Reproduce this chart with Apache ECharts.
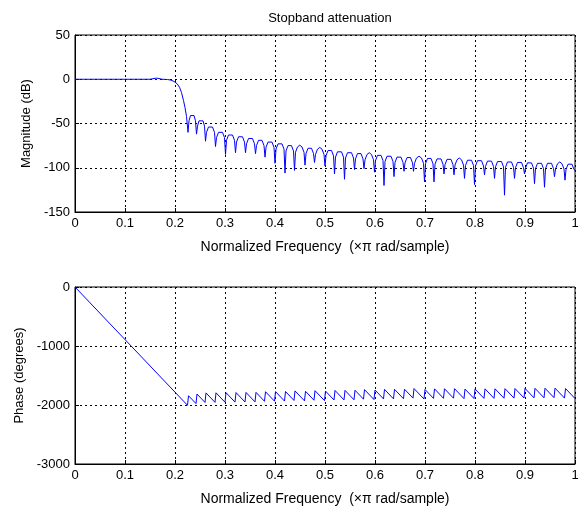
<!DOCTYPE html>
<html>
<head>
<meta charset="utf-8">
<script src="https://cdn.jsdelivr.net/npm/echarts@6/dist/echarts.min.js"></script>
<style>
  html, body { margin: 0; padding: 0; background: #fff; }
  #chart { width: 585px; height: 513px; }
</style>
</head>
<body>
<div id="chart"></div>
<script>
// Tick labels
const freqTicks = [0, 0.1, 0.2, 0.3, 0.4, 0.5, 0.6, 0.7, 0.8, 0.9, 1];
const magTicks = [-150, -100, -50, 0, 50];
const phaseTicks = [-3000, -2000, -1000, 0];

// Magnitude response (dB) over normalized frequency: passband and transition
const magPassband = [
  [0, 0], [0.05, 0], [0.10, 0], [0.15, 0], [0.158, 0.8], [0.163, 1.3], [0.168, 0.8],
  [0.174, 0], [0.185, -0.3], [0.192, -1], [0.198, -2.5], [0.204, -5], [0.209, -9],
  [0.213, -15], [0.217, -24], [0.220, -32], [0.223, -42]
];

// Stopband sidelobes: null, rise, shoulder, peak, shoulder, fall for each lobe
const magStopband = [
  [0.226,-60],[0.228,-47],[0.231,-41],[0.2345,-39],[0.238,-41],[0.241,-47],
  [0.243,-62],[0.245,-53],[0.248,-47],[0.252,-45],[0.256,-47],[0.259,-53],
  [0.261,-70],[0.263,-60],[0.267,-54],[0.271,-52],[0.275,-54],[0.279,-60],
  [0.281,-76],[0.283,-66],[0.287,-60],[0.291,-58],[0.295,-60],[0.299,-66],
  [0.301,-85],[0.303,-69],[0.307,-63],[0.311,-61],[0.315,-63],[0.319,-69],
  [0.321,-83],[0.323,-71],[0.327,-65],[0.331,-63],[0.335,-65],[0.339,-71],
  [0.341,-83],[0.343,-73],[0.347,-67],[0.351,-65],[0.355,-67],[0.359,-73],
  [0.361,-84],[0.363,-75],[0.367,-69],[0.3705,-67],[0.374,-69],[0.378,-75],
  [0.380,-88],[0.382,-77],[0.386,-71],[0.390,-69],[0.394,-71],[0.398,-77],
  [0.400,-95],[0.402,-79],[0.406,-73],[0.410,-71],[0.414,-73],[0.418,-79],
  [0.420,-106],[0.422,-81],[0.426,-75],[0.4295,-73],[0.433,-75],[0.437,-81],
  [0.439,-103],[0.441,-82.5],[0.445,-76.5],[0.4495,-74.5],[0.454,-76.5],[0.458,-82.5],
  [0.460,-97],[0.462,-84],[0.466,-78],[0.4695,-76],[0.473,-78],[0.477,-84],
  [0.479,-94],[0.481,-85],[0.485,-79],[0.4895,-77],[0.494,-79],[0.498,-85],
  [0.500,-98],[0.502,-86.5],[0.506,-80.5],[0.5095,-78.5],[0.513,-80.5],[0.517,-86.5],
  [0.519,-107],[0.521,-88],[0.525,-82],[0.529,-80],[0.533,-82],[0.537,-88],
  [0.539,-113],[0.541,-89],[0.545,-83],[0.549,-81],[0.553,-83],[0.557,-89],
  [0.559,-102],[0.561,-90],[0.565,-84],[0.5685,-82],[0.572,-84],[0.576,-90],
  [0.578,-101],[0.580,-91],[0.584,-85],[0.5885,-83],[0.593,-85],[0.597,-91],
  [0.599,-105],[0.601,-92],[0.605,-86],[0.6085,-84],[0.612,-86],[0.616,-92],
  [0.618,-120],[0.620,-93],[0.624,-87],[0.628,-85],[0.632,-87],[0.636,-93],
  [0.638,-110],[0.640,-94],[0.644,-88],[0.648,-86],[0.652,-88],[0.656,-94],
  [0.658,-104],[0.660,-94.5],[0.664,-88.5],[0.6675,-86.5],[0.671,-88.5],[0.675,-94.5],
  [0.677,-104],[0.679,-95],[0.683,-89],[0.688,-87],[0.693,-89],[0.697,-95],
  [0.699,-116],[0.701,-95.5],[0.705,-89.5],[0.7085,-87.5],[0.712,-89.5],[0.716,-95.5],
  [0.718,-116],[0.720,-96],[0.724,-90],[0.728,-88],[0.732,-90],[0.736,-96],
  [0.738,-107],[0.740,-96.5],[0.744,-90.5],[0.748,-88.5],[0.752,-90.5],[0.756,-96.5],
  [0.758,-108],[0.760,-97],[0.764,-91],[0.7685,-89],[0.773,-91],[0.777,-97],
  [0.779,-112],[0.781,-97.5],[0.785,-91.5],[0.789,-89.5],[0.793,-91.5],[0.797,-97.5],
  [0.799,-119],[0.801,-98],[0.805,-92],[0.809,-90],[0.813,-92],[0.817,-98],
  [0.819,-108],[0.821,-98.5],[0.825,-92.5],[0.829,-90.5],[0.833,-92.5],[0.837,-98.5],
  [0.839,-112],[0.841,-99],[0.845,-93],[0.849,-91],[0.853,-93],[0.857,-99],
  [0.859,-131],[0.861,-99.5],[0.865,-93.5],[0.869,-91.5],[0.873,-93.5],[0.877,-99.5],
  [0.879,-112],[0.881,-100],[0.885,-94],[0.889,-92],[0.893,-94],[0.897,-100],
  [0.899,-107],[0.901,-100.5],[0.905,-94.5],[0.909,-92.5],[0.913,-94.5],[0.917,-100.5],
  [0.919,-118],[0.921,-101],[0.925,-95],[0.929,-93],[0.933,-95],[0.937,-101],
  [0.939,-122],[0.941,-101],[0.945,-95],[0.949,-93],[0.953,-95],[0.957,-101],
  [0.959,-110],[0.961,-101.5],[0.965,-95.5],[0.9695,-93.5],[0.974,-95.5],[0.978,-101.5],
  [0.980,-114],[0.982,-102],[0.986,-96],[0.990,-94],[0.994,-96],[0.998,-102],
  [1.000,-103]
];

// Unwrapped phase (degrees): linear passband, then +180 jumps at each stopband zero
const phasePassband = [[0, 0], [0.225, -2005]];
const phaseStopband = [
  [0.227,-1843],[0.242,-1976],[0.244,-1814],[0.260,-1957],[0.262,-1795],
  [0.280,-1955],[0.282,-1793],[0.300,-1953],[0.302,-1791],[0.320,-1951],[0.322,-1789],
  [0.340,-1949],[0.342,-1787],[0.360,-1948],[0.362,-1786],[0.379,-1937],[0.381,-1775],
  [0.399,-1935],[0.401,-1773],[0.419,-1933],[0.421,-1771],[0.438,-1923],[0.440,-1761],
  [0.459,-1930],[0.461,-1768],[0.478,-1919],[0.480,-1757],[0.499,-1926],[0.501,-1764],
  [0.518,-1915],[0.520,-1753],[0.538,-1914],[0.540,-1752],[0.558,-1912],[0.560,-1750],
  [0.577,-1901],[0.579,-1739],[0.598,-1908],[0.600,-1746],[0.617,-1897],[0.619,-1735],
  [0.637,-1896],[0.639,-1734],[0.657,-1894],[0.659,-1732],[0.676,-1883],[0.678,-1721],
  [0.698,-1899],[0.700,-1737],[0.717,-1888],[0.719,-1726],[0.737,-1887],[0.739,-1725],
  [0.757,-1885],[0.759,-1723],[0.778,-1892],[0.780,-1730],[0.798,-1890],[0.800,-1728],
  [0.818,-1888],[0.820,-1726],[0.838,-1887],[0.840,-1725],[0.858,-1885],[0.860,-1723],
  [0.878,-1883],[0.880,-1721],[0.898,-1881],[0.900,-1719],[0.918,-1879],[0.920,-1717],
  [0.938,-1878],[0.940,-1716],[0.958,-1876],[0.960,-1714],[0.979,-1883],[0.981,-1721],
  [1.000,-1890]
];

const FONT = '"Liberation Sans", Arial, Helvetica, sans-serif';
const FS = 13;
const gridLine = { show: true, lineStyle: { color: '#000', type: [2, 3], width: 1 } };
const freqLabel = v => String(+v.toFixed(1));
const plainLabel = v => String(v);

function freqAxis(gridIndex) {
  return {
    type: 'value', gridIndex,
    min: freqTicks[0], max: freqTicks[freqTicks.length - 1],
    interval: freqTicks[1] - freqTicks[0],
    name: 'Normalized Frequency  (\u00d7\u03c0 rad/sample)',
    nameLocation: 'middle', nameGap: 28,
    nameTextStyle: { color: '#000', fontFamily: FONT, fontSize: 14 },
    axisLine: { show: true, onZero: false, lineStyle: { color: '#000', width: 1 } },
    axisTick: { show: true, inside: true, length: 4, lineStyle: { color: '#000' } },
    axisLabel: { color: '#000', fontFamily: FONT, fontSize: FS, margin: 5, formatter: freqLabel },
    splitLine: gridLine
  };
}

function valueAxis(gridIndex, ticks, title, gap) {
  return {
    type: 'value', gridIndex,
    min: ticks[0], max: ticks[ticks.length - 1],
    interval: ticks[1] - ticks[0],
    name: title, nameLocation: 'middle', nameGap: gap,
    nameTextStyle: { color: '#000', fontFamily: FONT, fontSize: FS },
    axisLine: { show: true, onZero: false, lineStyle: { color: '#000', width: 1 } },
    axisTick: { show: true, inside: true, length: 4, lineStyle: { color: '#000' } },
    axisLabel: { color: '#000', fontFamily: FONT, fontSize: FS, margin: 5, formatter: plainLabel },
    splitLine: gridLine
  };
}

const chart = echarts.init(document.getElementById('chart'), null, { renderer: 'canvas' });
chart.setOption({
  animation: false,
  backgroundColor: '#fff',
  title: {
    text: 'Stopband attenuation',
    left: 325, top: 7, textAlign: 'center',
    textStyle: { color: '#000', fontFamily: FONT, fontSize: FS, fontWeight: 'normal' }
  },
  grid: [
    { left: 75, right: 10, top: 35, height: 177, show: true, borderColor: '#000', borderWidth: 1, backgroundColor: '#fff' },
    { left: 75, right: 10, top: 287, height: 177, show: true, borderColor: '#000', borderWidth: 1, backgroundColor: '#fff' }
  ],
  xAxis: [freqAxis(0), freqAxis(1)],
  yAxis: [
    valueAxis(0, magTicks, 'Magnitude (dB)', 40),
    valueAxis(1, phaseTicks, 'Phase (degrees)', 49)
  ],
  series: [
    {
      type: 'line', xAxisIndex: 0, yAxisIndex: 0,
      data: magPassband.concat(magStopband),
      showSymbol: false, symbol: 'none',
      lineStyle: { color: '#0000ff', width: 1 },
      silent: true
    },
    {
      type: 'line', xAxisIndex: 1, yAxisIndex: 1,
      data: phasePassband.concat(phaseStopband),
      showSymbol: false, symbol: 'none',
      lineStyle: { color: '#0000ff', width: 1 },
      silent: true
    }
  ]
});
</script>
</body>
</html>
